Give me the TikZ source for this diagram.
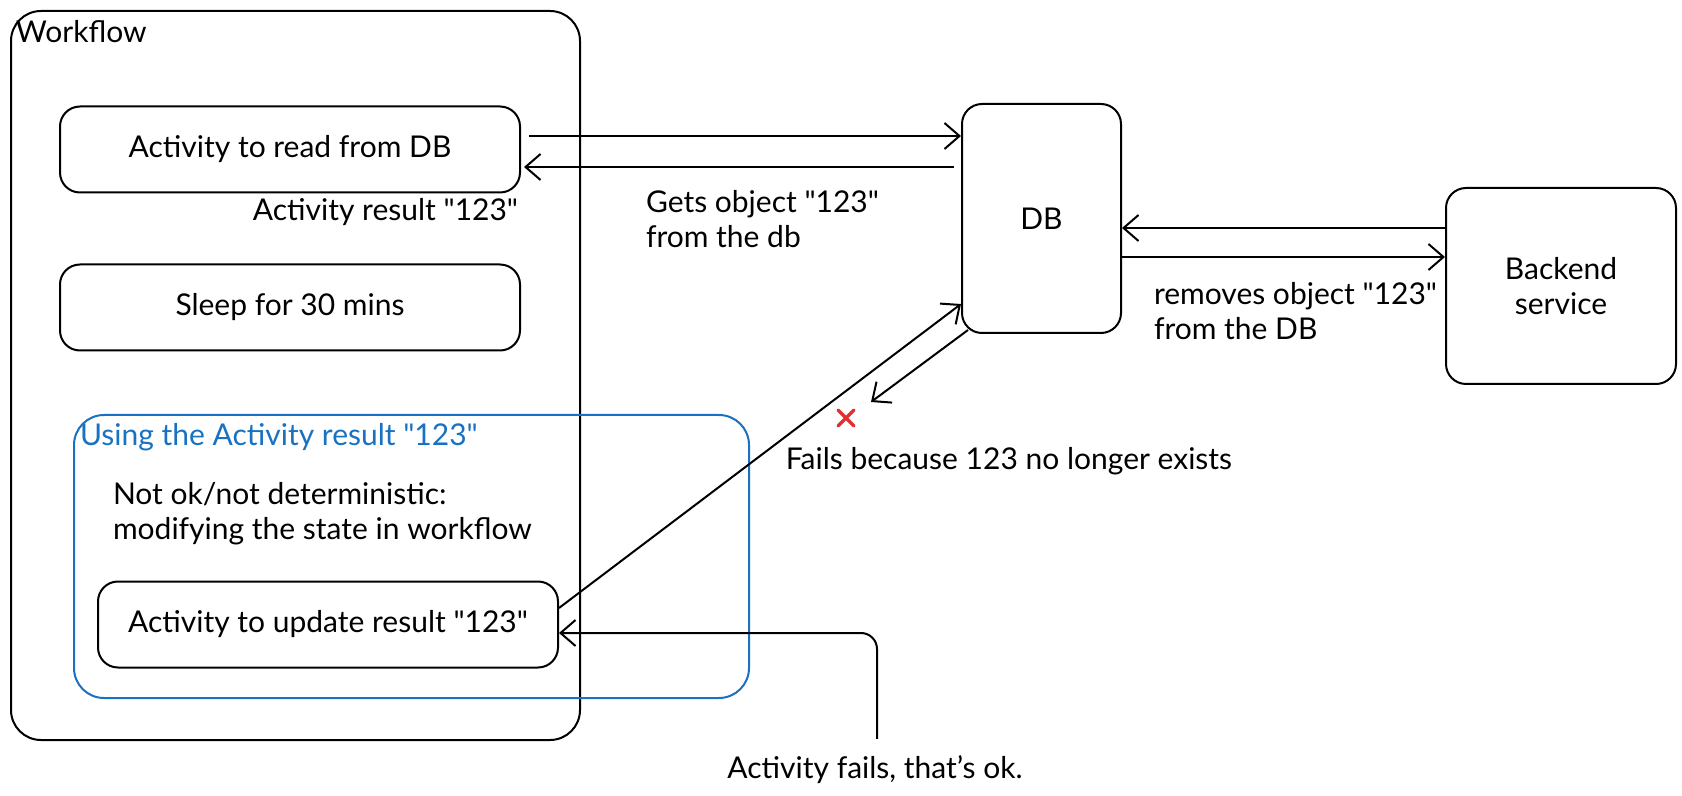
\documentclass[tikz,border=0pt]{standalone}
\usepackage{fontspec}
\setmainfont{Lato}
\usetikzlibrary{arrows.meta,calc}
\definecolor{sketchblue}{HTML}{1971C2}
\definecolor{sketchred}{HTML}{E03131}
\newcommand\dq{\textquotedbl}

\begin{document}
\begin{tikzpicture}[x=0.5pt,y=-0.5pt,line width=1pt,>={Straight Barb[length=7.5pt,width=13pt]},
  box/.style={draw,rounded corners=10pt,minimum width=230pt,minimum height=43pt,
    font=\fontsize{15}{17.5}\selectfont},
  lbl/.style={font=\fontsize{15}{17.5}\selectfont,align=left,inner sep=0pt},
  arr/.style={->,line width=1pt}]
\useasboundingbox (0,0) rectangle (1682,796);
  % workflow frame
  \node[draw,rounded corners=15pt,minimum width=284.5pt,minimum height=364.5pt] (wf) at (295.5,375.5) {};
  \node[lbl,anchor=west] (wflbl) at (15,32) {Workflow};
  % activities inside the workflow
  \node[box] (read) at (290,149.5) {Activity to read from DB};
  \node[lbl,anchor=east] (res) at (519,212) {Activity result \dq 123\dq};
  \node[box] (sleep) at (290,307.5) {Sleep for 30 mins};
  % blue group
  \node[draw=sketchblue,rounded corners=15pt,minimum width=337.5pt,minimum height=141.5pt] (grp) at (411.5,556.5) {};
  \node[lbl,anchor=west,text=sketchblue] (grplbl) at (79,437) {Using the Activity result \dq 123\dq};
  \node[lbl,anchor=west] (note) at (112,514) {Not ok/not deterministic:\\modifying the state in workflow};
  \node[box] (upd) at (328,624.5) {Activity to update result \dq 123\dq};
  % outside services
  \node[box,minimum width=79.5pt,minimum height=114.5pt] (db) at (1041.5,218.5) {DB};
  \node[box,minimum width=115pt,minimum height=98pt,align=center] (back) at (1561,286) {Backend\\service};
  % read round trip
  \draw[arr] ([xshift=4pt,yshift=6.75pt]read.east) -- ([yshift=6.75pt]read.east -| db.west);
  \draw[arr] ([xshift=-3.5pt,yshift=-8.75pt]read.east -| db.west) -- ([xshift=1.5pt,yshift=-8.75pt]read.east);
  \node[lbl,anchor=west] (gets) at (645,219.5) {Gets object \dq 123\dq\\from the db};
  % backend removes the object
  \draw[arr] ([yshift=-4.75pt]db.east -| back.west) -- ([yshift=-4.75pt]db.east);
  \draw[arr] ([yshift=-19.25pt]db.east) -- ([yshift=-19.25pt]db.east -| back.west);
  \node[lbl,anchor=west] (rem) at (1153,311.5) {removes object \dq 123\dq\\from the DB};
  % failing update
  \draw[arr] ([yshift=8.25pt]upd.east) -- ([yshift=-42.75pt]db.west);
  \coordinate (failend) at (871,402);
  \draw[arr] ([xshift=3.5pt,yshift=2pt]db.south west) -- (failend);
  \coordinate (xmark) at (846,418);
  \draw[sketchred,line width=1.6pt,line cap=round]
    ($(xmark)+(-8,-8)$) -- ($(xmark)+(8,8)$) ($(xmark)+(8,-8)$) -- ($(xmark)+(-8,8)$);
  \node[lbl] (fails) at (1009,461) {Fails because 123 no longer exists};
  % retry note
  \node[lbl] (okl) at (875,770) {Activity fails, that’s ok.};
  \draw[arr,rounded corners=8pt] ([xshift=1pt,yshift=8pt]okl.north) |- ([yshift=-4.25pt]upd.east);
\end{tikzpicture}
\end{document}
